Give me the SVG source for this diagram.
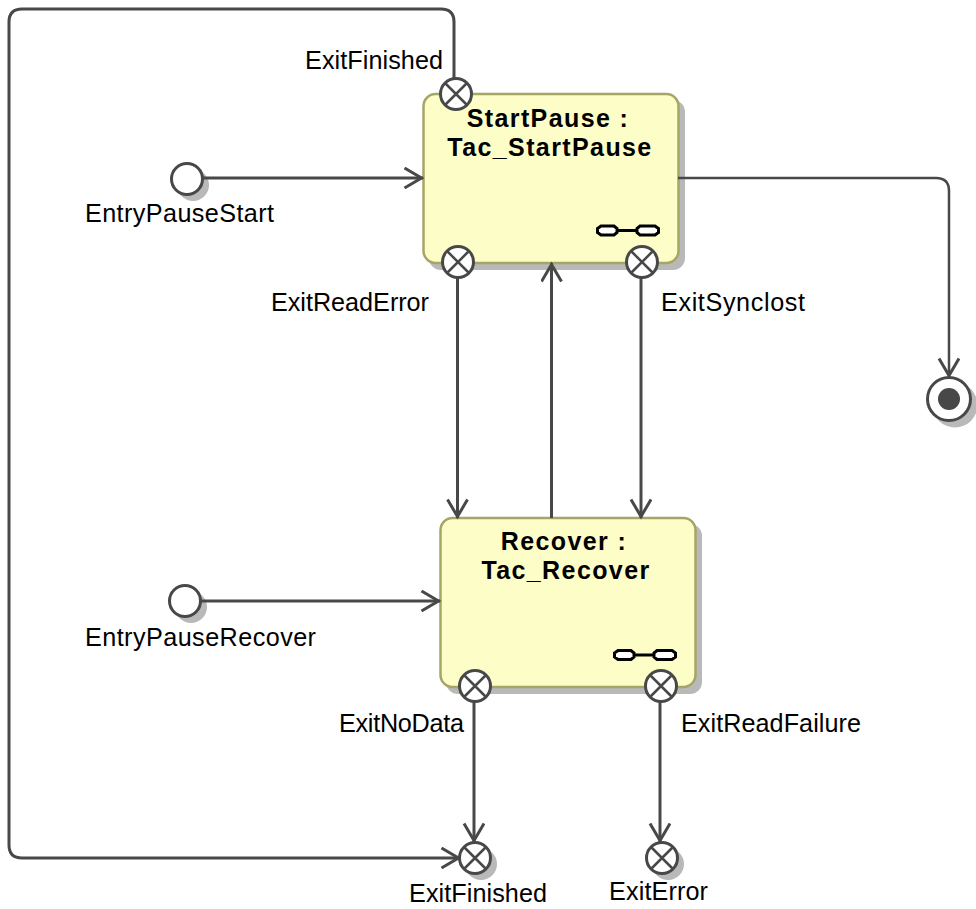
<svg xmlns="http://www.w3.org/2000/svg" width="976" height="909" viewBox="0 0 976 909">
<defs>
<style>
text{font-family:"Liberation Sans",Arial,sans-serif;font-size:25.2px;fill:#000}
.t{font-weight:bold;text-anchor:middle;font-size:25px;letter-spacing:1.4px}
.box{fill:#fdfdc8;stroke:#a5a565;stroke-width:2.5}
.sh{fill:#b9b9b9}
.c{fill:none;stroke:#484848;stroke-width:3}
.p{fill:#fff;stroke:#484848;stroke-width:3}
.x{fill:none;stroke:#484848;stroke-width:2.5}
.l{fill:#fff;stroke:#000;stroke-width:3}
.ln{fill:none;stroke:#000;stroke-width:3}
</style>
<marker id="a" markerUnits="userSpaceOnUse" markerWidth="26" markerHeight="24" refX="22.500" refY="11" orient="auto">
<path d="M4 1 L21 11 L4 21" fill="none" stroke="#484848" stroke-width="3"/>
</marker>
<g id="xp"><circle r="15.5" class="p"/><path d="M-10.5 -10.5L10.5 10.5M-10.5 10.5L10.5 -10.5" class="x"/></g>
<g id="link"><path class="l" d="M5 -4.500H18L21 -2V2L18 4.500H5L1.500 2V-2Z"/><path class="l" d="M44 -4.500H59L62.500 -2V2L59 4.500H44L41 2V-2Z"/><path class="ln" d="M21 0H41"/></g>
</defs>
<rect width="976" height="909" fill="#fff"/>
<g id="StartPause">
<rect class="sh" x="429" y="100" width="256" height="170" rx="12"/>
<rect class="box" x="423.500" y="94" width="255" height="169" rx="12"/>
<text class="t" x="548" y="127">StartPause :</text>
<text class="t" x="550" y="156">Tac_StartPause</text>
<use href="#link" x="596" y="230.500"/>
</g>
<g id="Recover">
<rect class="sh" x="446" y="524" width="256" height="170" rx="12"/>
<rect class="box" x="440.500" y="518" width="255" height="169" rx="12"/>
<text class="t" x="564" y="550">Recover :</text>
<text class="t" x="566" y="579">Tac_Recover</text>
<use href="#link" x="613" y="655"/>
</g>
<g id="EntryPauseStart">
<circle class="sh" cx="193" cy="185" r="16"/><circle class="p" cx="187" cy="179" r="15.500"/>
<text x="85" y="222" textLength="189">EntryPauseStart</text>
</g>
<g id="EntryPauseRecover">
<circle class="sh" cx="191" cy="607" r="16"/><circle class="p" cx="185" cy="601" r="15.500"/>
<text x="85" y="646" textLength="231">EntryPauseRecover</text>
</g>
<g id="connectors">
<path class="c" d="M454 78V22Q454 9 441 9H22Q9 9 9 22V845Q9 858 22 858H460" marker-end="url(#a)"/>
<path class="c" d="M203 178H423" marker-end="url(#a)"/>
<path class="c" d="M678 178H936Q949 178 949 191V377" style="stroke-width:2.500" marker-end="url(#a)"/>
<path class="c" d="M457.500 278V518" marker-end="url(#a)"/>
<path class="c" d="M551.500 518V263" marker-end="url(#a)"/>
<path class="c" d="M641 278V518" marker-end="url(#a)"/>
<path class="c" d="M201 601H440" marker-end="url(#a)"/>
<path class="c" d="M474 702V842" marker-end="url(#a)"/>
<path class="c" d="M660 702V842" marker-end="url(#a)"/>
</g>
<g id="ExitFinishedTop"><use href="#xp" x="456" y="94"/><text x="305" y="69" textLength="138">ExitFinished</text></g>
<g id="ExitReadError"><use href="#xp" x="458" y="262"/><text x="271" y="311" textLength="158">ExitReadError</text></g>
<g id="ExitSynclost"><use href="#xp" x="642" y="262"/><text x="661" y="311" textLength="144">ExitSynclost</text></g>
<g id="ExitNoData"><use href="#xp" x="475" y="686"/><text x="339" y="732" textLength="125">ExitNoData</text></g>
<g id="ExitReadFailure"><use href="#xp" x="661" y="686"/><text x="681" y="732" textLength="180">ExitReadFailure</text></g>
<g id="ExitFinishedBottom"><circle class="sh" cx="481" cy="864" r="16"/><use href="#xp" x="475" y="858"/><text x="409" y="902" textLength="138">ExitFinished</text></g>
<g id="ExitError"><circle class="sh" cx="668" cy="864" r="16"/><use href="#xp" x="662" y="858"/><text x="609" y="900" textLength="99">ExitError</text></g>
<g id="Final">
<circle class="sh" cx="955" cy="405" r="22.500"/><circle class="p" cx="949" cy="399" r="21.500"/><circle cx="949" cy="399" r="11" fill="#484848"/>
</g>
</svg>
